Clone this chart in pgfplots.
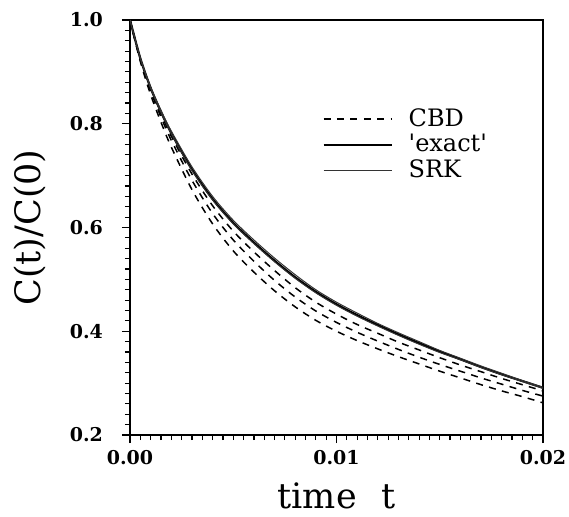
\documentclass[border=0pt]{standalone}
\usepackage{fontspec}
\setmainfont{DejaVu Serif}
\usepackage{pgfplots}
\usepackage{pgfplotstable}
\pgfplotsset{compat=1.18}

% C(t)/C(0): three CBD runs, the 'exact' curve and two SRK runs
\pgfplotstableread{
t      cbda  cbdb  cbdc  exact srka  srkb
0.0000 1.000 1.000 1.000 1.000 1.000 1.000
0.0005 0.920 0.923 0.925 0.926 0.927 0.926
0.0010 0.856 0.863 0.867 0.869 0.871 0.868
0.0015 0.803 0.813 0.819 0.823 0.826 0.822
0.0020 0.755 0.768 0.776 0.782 0.786 0.781
0.0030 0.673 0.691 0.703 0.712 0.717 0.710
0.0040 0.607 0.627 0.642 0.655 0.660 0.653
0.0050 0.555 0.576 0.593 0.609 0.614 0.607
0.0060 0.514 0.535 0.553 0.571 0.576 0.569
0.0070 0.478 0.498 0.517 0.536 0.541 0.534
0.0080 0.447 0.466 0.484 0.504 0.509 0.502
0.0090 0.421 0.439 0.456 0.476 0.480 0.474
0.0100 0.400 0.417 0.433 0.452 0.456 0.450
0.0110 0.382 0.398 0.413 0.431 0.435 0.429
0.0120 0.366 0.381 0.396 0.412 0.415 0.410
0.0130 0.351 0.365 0.379 0.394 0.397 0.392
0.0140 0.337 0.350 0.364 0.377 0.380 0.375
0.0150 0.323 0.336 0.349 0.361 0.363 0.359
0.0160 0.310 0.323 0.335 0.346 0.348 0.345
0.0170 0.297 0.310 0.322 0.331 0.333 0.330
0.0180 0.285 0.298 0.309 0.317 0.319 0.316
0.0190 0.274 0.286 0.297 0.304 0.305 0.303
0.0200 0.262 0.275 0.285 0.291 0.292 0.290
}\corr

\tikzset{cbd/.style={line width=0.75pt, dash pattern=on 3.5pt off 3.2pt}}

\begin{document}
\begin{tikzpicture}
  \begin{axis}[
      scale only axis,
      width=206.5pt, height=207.5pt,
      xmin=0, xmax=0.02, ymin=0.2, ymax=1.0,
      axis line style={line width=1pt},
      xtick={0,0.01,0.02},
      ytick={0.2,0.4,0.6,0.8,1.0},
      minor x tick num=19,
      minor y tick num=9,
      tick pos=left,
      tick align=outside,
      major tick length=4pt,
      minor tick length=2.5pt,
      every tick/.style={black, line width=0.6pt},
      scaled x ticks=false,
      /pgf/number format/assume math mode=true,
      xticklabel style={font=\bfseries\fontsize{9.5}{10}\selectfont,
        /pgf/number format/.cd, fixed, fixed zerofill, precision=2},
      yticklabel style={font=\bfseries\fontsize{9.5}{10}\selectfont, xshift=-6pt,
        /pgf/number format/.cd, fixed, fixed zerofill, precision=1},
      xlabel={time\hspace{0.7em}t},
      ylabel={C(t)/C(0)},
      label style={font=\fontsize{17.5}{20}\selectfont},
      xlabel style={at={(axis description cs:0.5,-0.176)}, anchor=base},
      ylabel style={at={(axis description cs:-0.242,0.5)}, anchor=center, rotate=0},
      legend style={at={(axis description cs:0.465,0.797)}, anchor=north west,
        draw=none, fill=none, font=\fontsize{12}{13}\selectfont,
        row sep=-1.5pt, inner sep=0pt,
        /tikz/every odd column/.style={column sep=6pt}},
      legend cell align=left,
      legend image code/.code={\draw[#1] (0pt,0pt) -- (34pt,0pt);},
    ]
    \addplot[cbd, smooth] table[x=t, y=cbda] {\corr};
    \addlegendentry{CBD}
    \addplot[cbd, smooth, forget plot] table[x=t, y=cbdb] {\corr};
    \addplot[cbd, smooth, forget plot] table[x=t, y=cbdc] {\corr};
    \addplot[black, line width=1.1pt, smooth] table[x=t, y=exact] {\corr};
    \addlegendentry{\textquotesingle exact\textquotesingle}
    \addplot[black!80, line width=0.5pt, smooth] table[x=t, y=srka] {\corr};
    \addlegendentry{SRK}
    \addplot[black!80, line width=0.5pt, smooth, forget plot] table[x=t, y=srkb] {\corr};
  \end{axis}
  \pgfresetboundingbox
  \path ([shift={(-65pt,-40.5pt)}]current axis.south west)
    rectangle ([shift={(13pt,10pt)}]current axis.north east);
\end{tikzpicture}
\end{document}
